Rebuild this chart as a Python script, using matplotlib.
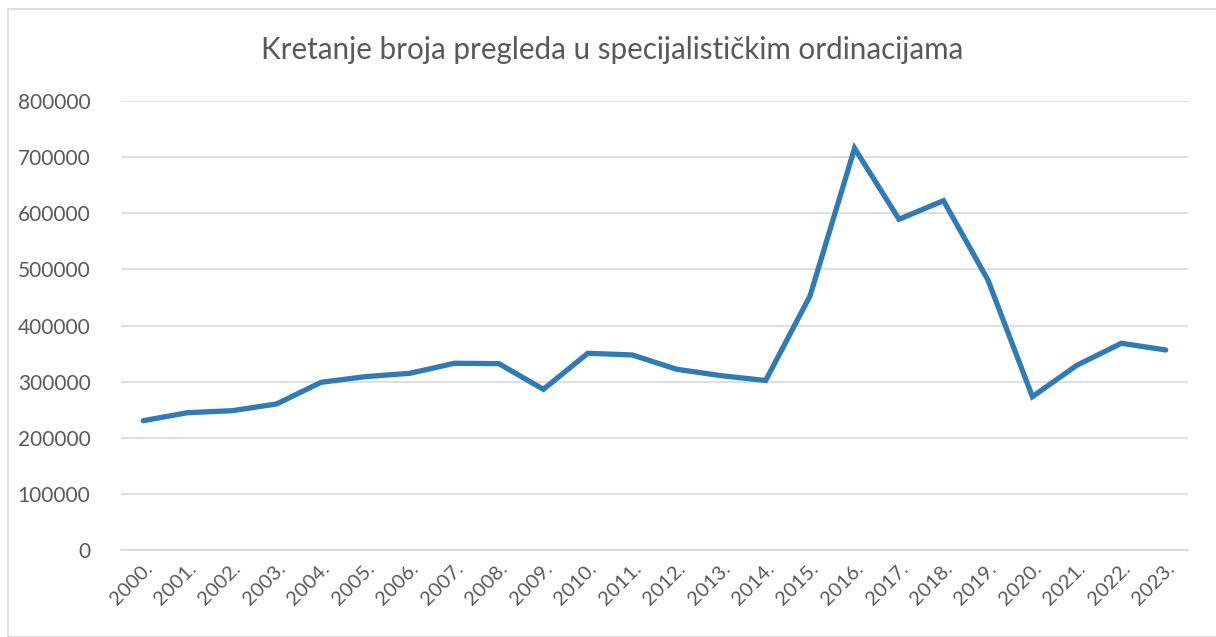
import matplotlib.pyplot as plt
from matplotlib.patches import Rectangle

plt.rcParams['font.family'] = ['Lato', 'DejaVu Sans']

# Broj pregleda po godinama
years = ['2000.', '2001.', '2002.', '2003.', '2004.', '2005.', '2006.', '2007.',
         '2008.', '2009.', '2010.', '2011.', '2012.', '2013.', '2014.', '2015.',
         '2016.', '2017.', '2018.', '2019.', '2020.', '2021.', '2022.', '2023.']
visits = [230400, 244700, 248200, 260200, 298800, 308900, 314900, 332700,
          332000, 286300, 350500, 347500, 322000, 310600, 302000, 453000,
          715800, 589300, 622400, 481100, 273200, 329100, 368300, 356400]
yticks = [0, 100000, 200000, 300000, 400000, 500000, 600000, 700000, 800000]

grey = '#595959'

fig = plt.figure(figsize=(12.16, 6.37), dpi=100)
fig.patches.append(Rectangle((8 / 1216, 0), 1.0, 1 - 9 / 637, transform=fig.transFigure,
                             fill=False, edgecolor='#D9D9D9', linewidth=1.2))

ax = fig.add_axes([121 / 1216, 1 - 550 / 637, (1188 - 121) / 1216, (550 - 101) / 637])
x = range(len(years))
ax.plot(x, visits, color='#2E7BB6', linewidth=3.8, solid_joinstyle='miter',
        solid_capstyle='round')

ax.set_xlim(-0.5, len(years) - 0.5)
ax.set_ylim(0, 800000)
ax.set_yticks(yticks)
ax.set_yticklabels([str(v) for v in yticks], fontsize=15, color=grey)
ax.set_xticks(list(x))
ax.set_xticklabels(years, fontsize=14.5, color=grey, rotation=45, ha='right',
                   rotation_mode='anchor')
ax.tick_params(axis='both', length=0)
ax.tick_params(axis='y', pad=22)
ax.tick_params(axis='x', pad=7)
ax.grid(axis='y', color='#D9D9D9', linewidth=1.2)
ax.set_axisbelow(True)
for s in ['top', 'right', 'left']:
    ax.spines[s].set_visible(False)
ax.spines['bottom'].set_color('#D9D9D9')
ax.spines['bottom'].set_linewidth(1.2)

fig.text(0.503, 1 - 50 / 637, 'Kretanje broja pregleda u specijalističkim ordinacijama',
         ha='center', va='center', fontsize=21.3, color=grey)

fig.savefig('out.png', dpi=100)
